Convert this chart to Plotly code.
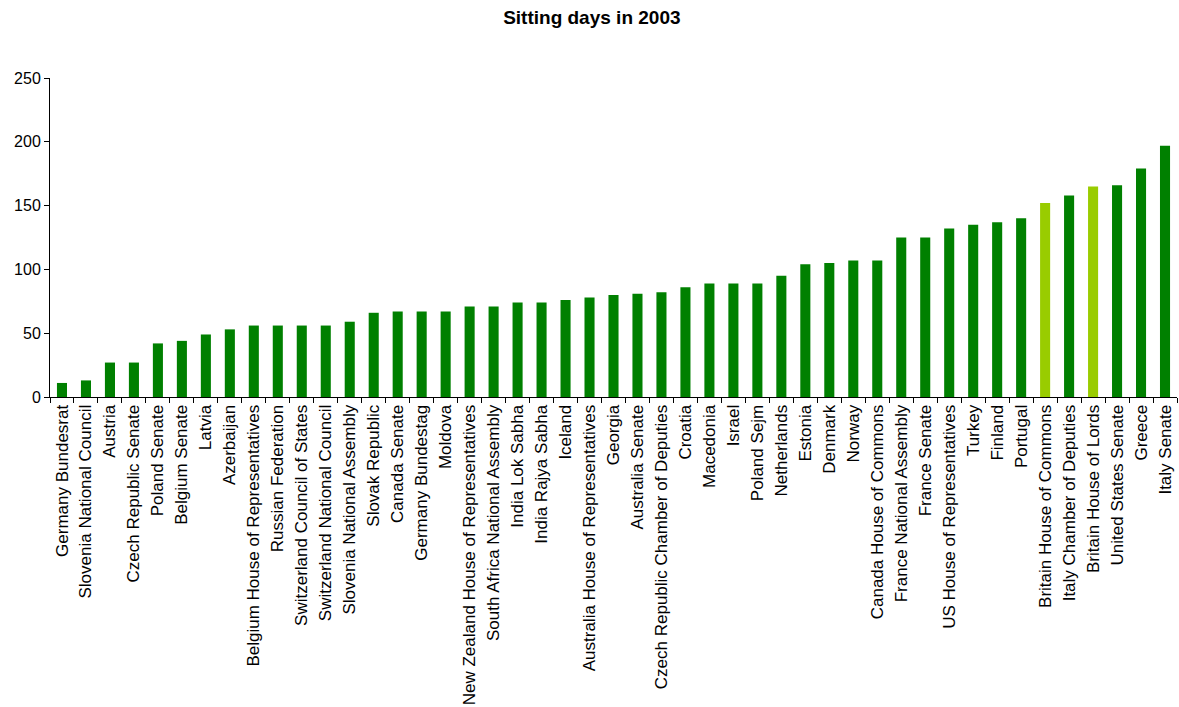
import plotly.graph_objects as go

chambers = [
    "Germany Bundesrat", "Slovenia National Council", "Austria", "Czech Republic Senate",
    "Poland Senate", "Belgium Senate", "Latvia", "Azerbaijan",
    "Belgium House of Representatives", "Russian Federation", "Switzerland Council of States",
    "Switzerland National Council", "Slovenia National Assembly", "Slovak Republic",
    "Canada Senate", "Germany Bundestag", "Moldova", "New Zealand House of Representatives",
    "South Africa National Assembly", "India Lok Sabha", "India Rajya Sabha", "Iceland",
    "Australia House of Representatives", "Georgia", "Australia Senate",
    "Czech Republic Chamber of Deputies", "Croatia", "Macedonia", "Israel", "Poland Sejm",
    "Netherlands", "Estonia", "Denmark", "Norway", "Canada House of Commons",
    "France National Assembly", "France Senate", "US House of Representatives", "Turkey",
    "Finland", "Portugal", "Britain House of Commons", "Italy Chamber of Deputies",
    "Britain House of Lords", "United States Senate", "Greece", "Italy Senate",
]

sitting_days = [
    11, 13, 27, 27, 42, 44, 49, 53, 56, 56, 56, 56, 59, 66, 67, 67, 67, 71, 71, 74, 74, 76,
    78, 80, 81, 82, 86, 89, 89, 89, 95, 104, 105, 107, 107, 125, 125, 132, 135, 137, 140,
    152, 158, 165, 166, 179, 197,
]

highlighted = ["Britain House of Commons", "Britain House of Lords"]

DARK = "#008000"
LIGHT = "#99CC00"
colors = [LIGHT if c in highlighted else DARK for c in chambers]

fig = go.Figure(
    go.Bar(x=chambers, y=sitting_days, marker=dict(color=colors, line=dict(width=0)))
)

fig.update_layout(
    width=1179,
    height=707,
    plot_bgcolor="white",
    paper_bgcolor="white",
    font=dict(family="Liberation Sans, Arial, sans-serif", size=16, color="black"),
    title=dict(
        text="<b>Sitting days in 2003</b>",
        x=0.502,
        xanchor="center",
        y=0.975,
        yanchor="middle",
        font=dict(size=19, color="black"),
    ),
    margin=dict(l=50, r=2, t=78, b=310, autoexpand=False),
    bargap=0.58,
    showlegend=False,
)

fig.update_xaxes(
    type="category",
    tickangle=-90,
    showline=True,
    linecolor="black",
    linewidth=1,
    ticks="outside",
    tickson="boundaries",
    ticklen=5,
    tickcolor="black",
    showgrid=False,
    automargin=False,
    tickfont=dict(size=17),
)

fig.update_yaxes(
    range=[0, 250],
    dtick=50,
    showline=True,
    linecolor="black",
    linewidth=1,
    ticks="outside",
    ticklen=5,
    tickcolor="black",
    showgrid=False,
    zeroline=False,
    automargin=False,
    tickfont=dict(size=16),
)

fig.write_html(
    "out.html",
    config={"displayModeBar": False},
    post_script="document.body.style.margin='0';document.body.style.overflow='hidden';",
)
